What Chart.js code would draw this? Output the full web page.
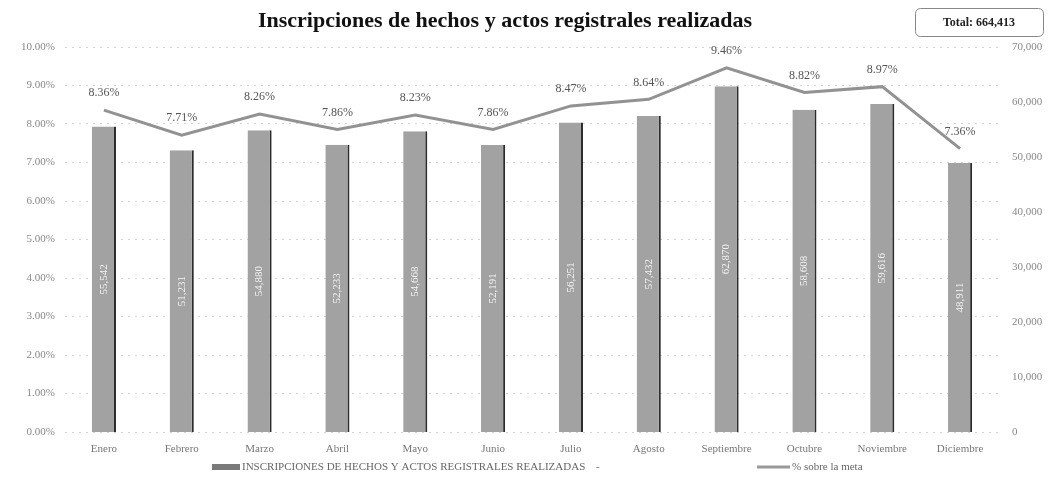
<!DOCTYPE html>
<html>
<head>
<meta charset="utf-8">
<script src="https://cdn.jsdelivr.net/npm/chart.js@4.4.1/dist/chart.umd.min.js"></script>
<style>
html,body{margin:0;padding:0;background:#fff;}
#wrap{width:1052px;height:483px;position:relative;}
</style>
</head>
<body>
<div id="wrap"><canvas id="c" width="1052" height="483"></canvas></div>
<script>
const months = ['Enero','Febrero','Marzo','Abril','Mayo','Junio','Julio','Agosto','Septiembre','Octubre','Noviembre','Diciembre'];
const inscripciones = [55542, 51231, 54880, 52233, 54668, 52191, 56251, 57432, 62870, 58608, 59616, 48911];
const pctMeta = [8.36, 7.71, 8.26, 7.86, 8.23, 7.86, 8.47, 8.64, 9.46, 8.82, 8.97, 7.36];
const pctTicks = [0,1,2,3,4,5,6,7,8,9,10];
const countTicks = [0,10000,20000,30000,40000,50000,60000,70000];
const titleText = 'Inscripciones de hechos y actos registrales realizadas';
const totalText = 'Total: 664,413';
const barLabel = 'INSCRIPCIONES DE HECHOS Y ACTOS REGISTRALES REALIZADAS';
const lineLabel = '% sobre la meta';

const SERIF = '"Liberation Serif", "DejaVu Serif", serif';
const fmt = n => n.toLocaleString('en-US');

const decor = {
  id: 'decor',
  afterDatasetsDraw(chart) {
    const ctx = chart.ctx;
    const mb = chart.getDatasetMeta(0);
    ctx.save();
    ctx.fillStyle = '#f4f4f4';
    ctx.font = '11px ' + SERIF;
    ctx.textAlign = 'center';
    ctx.textBaseline = 'middle';
    mb.data.forEach((el, i) => {
      ctx.save();
      ctx.translate(el.x, (el.y + el.base) / 2);
      ctx.rotate(-Math.PI / 2);
      ctx.fillText(fmt(inscripciones[i]), 0, 0);
      ctx.restore();
    });
    ctx.restore();
    const ml = chart.getDatasetMeta(1);
    ctx.save();
    ctx.fillStyle = '#555';
    ctx.font = '12px ' + SERIF;
    ctx.textAlign = 'center';
    ctx.textBaseline = 'middle';
    ml.data.forEach((el, i) => {
      ctx.fillText(pctMeta[i].toFixed(2) + '%', el.x, el.y - 17);
    });
    ctx.restore();
  },
  afterDraw(chart) {
    const ctx = chart.ctx;
    ctx.save();
    ctx.fillStyle = '#111';
    ctx.font = 'bold 22px ' + SERIF;
    ctx.textAlign = 'center';
    ctx.textBaseline = 'middle';
    ctx.fillText(titleText, 505, 21);
    ctx.strokeStyle = '#888';
    ctx.lineWidth = 1;
    ctx.beginPath();
    ctx.roundRect(915.5, 8.5, 128, 28, 5);
    ctx.stroke();
    ctx.font = 'bold 12px ' + SERIF;
    ctx.fillStyle = '#222';
    ctx.fillText(totalText, 979, 23);
    ctx.font = '11px ' + SERIF;
    ctx.textAlign = 'left';
    const y = 467;
    ctx.fillStyle = '#7a7a7a';
    ctx.fillRect(212, y - 3, 28, 6);
    ctx.fillStyle = '#666';
    ctx.fillText(barLabel, 242, y);
    ctx.fillText('-', 596, y);
    ctx.strokeStyle = '#999';
    ctx.lineWidth = 3;
    ctx.beginPath();
    ctx.moveTo(757, y);
    ctx.lineTo(790, y);
    ctx.stroke();
    ctx.fillText(lineLabel, 792, y);
    ctx.restore();
  }
};

new Chart(document.getElementById('c'), {
  type: 'bar',
  data: {
    labels: months,
    datasets: [
      {
        type: 'bar',
        label: barLabel,
        data: inscripciones,
        yAxisID: 'y1',
        backgroundColor: '#a2a2a2',
        borderColor: '#2b2b2b',
        borderWidth: {left: 0, right: 2, top: 0, bottom: 0},
        borderSkipped: false,
        categoryPercentage: 1,
        barPercentage: 0.31,
        order: 1
      },
      {
        type: 'line',
        label: lineLabel,
        data: pctMeta,
        yAxisID: 'y',
        borderColor: '#929292',
        backgroundColor: '#929292',
        borderWidth: 3,
        pointRadius: 0,
        tension: 0,
        order: 0
      }
    ]
  },
  options: {
    responsive: false,
    animation: false,
    layout: {padding: {top: 47, bottom: 29, left: 0, right: 0}},
    plugins: {
      legend: {display: false},
      title: {display: false},
      tooltip: {enabled: false}
    },
    scales: {
      x: {
        grid: {display: false},
        border: {display: false},
        ticks: {color: '#777', font: {family: SERIF, size: 11}, padding: 3, maxRotation: 0},
        afterFit: s => { s.height = 22; }
      },
      y: {
        position: 'left',
        min: 0, max: 10,
        afterBuildTicks: s => { s.ticks = pctTicks.map(v => ({value: v})); },
        grid: {color: '#d4d4d4', drawTicks: false},
        border: {display: false, dash: [2, 5]},
        ticks: {color: '#888', font: {family: SERIF, size: 11}, padding: 10, callback: v => v.toFixed(2) + '%'},
        afterFit: s => { s.width = 65; }
      },
      y1: {
        position: 'right',
        min: 0, max: 70000,
        afterBuildTicks: s => { s.ticks = countTicks.map(v => ({value: v})); },
        grid: {display: false, drawTicks: false},
        border: {display: false},
        ticks: {color: '#888', font: {family: SERIF, size: 11}, padding: 13, callback: v => fmt(v)},
        afterFit: s => { s.width = 53; }
      }
    }
  },
  plugins: [decor]
});
</script>
</body>
</html>
